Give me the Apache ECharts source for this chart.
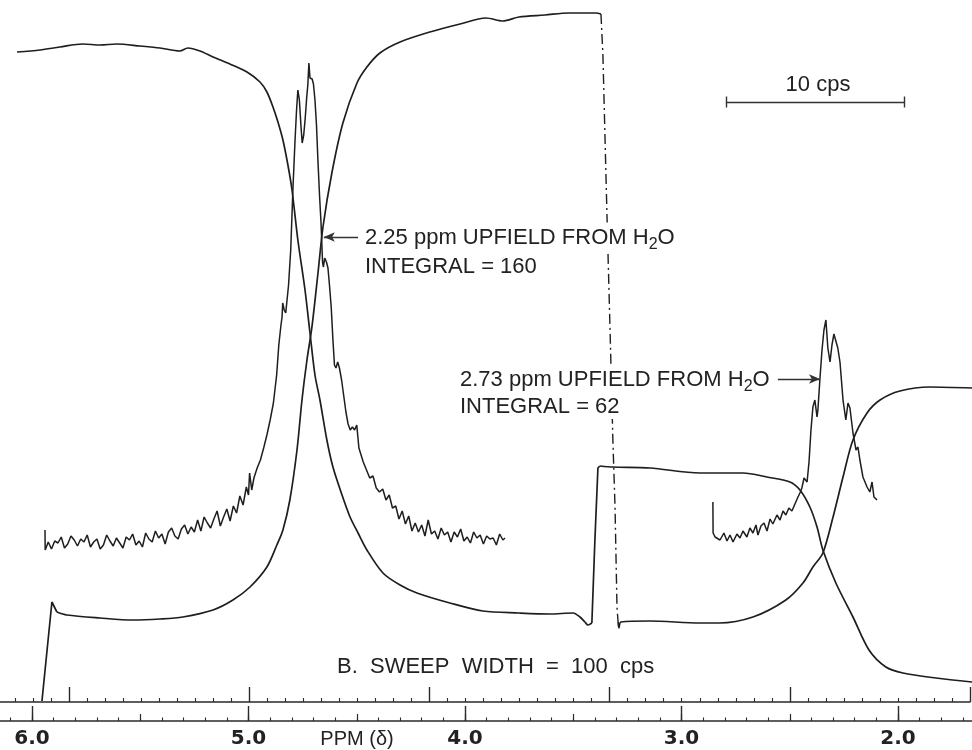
<!DOCTYPE html>
<html>
<head>
<meta charset="utf-8">
<script src="https://cdn.jsdelivr.net/npm/echarts@6/dist/echarts.min.js"></script>
<style>
    html, body { margin: 0; padding: 0; background: #fff; }
    #chart { width: 972px; height: 750px; }
</style>
</head>
<body>
<div id="chart"></div>
<script>
    // x: chemical shift in ppm (delta), y: pen deflection in chart divisions
    const integralA = [
        [6.069, 66.9], [5.963, 67.1], [5.871, 67.4], [5.765, 67.7], [5.686, 67.6], [5.608, 67.7],
        [5.501, 67.5], [5.409, 67.3], [5.317, 67.0], [5.280, 67.3], [5.224, 67.0], [5.164, 66.4],
        [5.086, 65.7], [5.007, 64.9], [4.947, 63.9], [4.915, 62.9], [4.887, 61.4], [4.864, 59.9],
        [4.841, 58.1], [4.818, 55.6], [4.799, 53.1], [4.772, 48.1], [4.739, 43.1], [4.716, 38.8],
        [4.693, 34.6], [4.670, 32.1], [4.638, 28.1], [4.610, 25.4], [4.568, 22.6], [4.531, 20.4],
        [4.494, 18.8], [4.453, 17.1], [4.379, 14.8], [4.300, 13.6], [4.222, 12.8], [4.070, 11.8],
        [3.917, 11.0], [3.751, 10.8], [3.608, 10.7], [3.501, 10.8], [3.469, 10.4], [3.446, 9.9],
        [3.432, 9.6], [3.414, 9.8]
    ]

    // pen reset between the two integrals
    const stepA = [[3.414, 9.8], [3.400, 18.1], [3.386, 25.3], [3.377, 25.5]]

    const integralC = [
        [3.377, 25.5], [3.317, 25.4], [3.146, 25.3], [2.915, 24.8], [2.716, 24.8], [2.605, 24.4],
        [2.499, 23.9], [2.453, 23.1], [2.407, 21.4], [2.374, 19.4], [2.347, 17.1], [2.287, 13.8],
        [2.208, 10.4], [2.134, 7.1], [2.056, 5.4], [1.977, 4.8], [1.825, 4.3], [1.658, 3.9]
    ]

    const startB = [[5.954, 2.0], [5.908, 11.9], [5.885, 10.9]]

    const integralB = [
        [5.885, 10.9], [5.839, 10.6], [5.686, 10.3], [5.534, 10.1],
        [5.409, 10.2], [5.303, 10.4], [5.164, 11.1], [5.072, 12.1], [4.993, 13.4], [4.915, 15.4],
        [4.869, 17.6], [4.841, 19.1], [4.809, 22.1], [4.776, 27.1], [4.753, 32.1], [4.730, 36.1],
        [4.707, 39.4], [4.679, 44.8], [4.656, 49.4], [4.615, 54.8], [4.564, 59.8], [4.499, 63.8],
        [4.453, 65.4], [4.393, 66.8], [4.300, 67.9], [4.162, 68.9], [4.023, 69.7], [3.903, 70.3],
        [3.825, 70.0], [3.751, 70.4], [3.631, 70.6], [3.520, 70.8], [3.395, 70.8], [3.372, 70.7]
    ]

    // fast pen return, drawn dash-dot on the paper
    const integralReturn = [
        [3.372, 70.7], [3.363, 66.6], [3.344, 50.4], [3.330, 39.1], [3.317, 28.1], [3.307, 21.4],
        [3.298, 11.4], [3.293, 9.9]
    ]

    const integralD = [
        [3.293, 9.9], [3.289, 9.3], [3.280, 9.9], [3.146, 10.0], [2.915, 9.8], [2.827, 9.8],
        [2.670, 10.4], [2.518, 12.1], [2.439, 13.8], [2.393, 15.4], [2.347, 16.8], [2.300, 20.4],
        [2.254, 24.4], [2.208, 28.1], [2.143, 30.8], [2.083, 32.1], [1.991, 33.0], [1.853, 33.4],
        [1.658, 33.3]
    ]

    const signal1 = [
        [5.940, 19.1], [5.939, 17.1], [5.925, 17.9], [5.910, 17.2], [5.895, 18.0], [5.880, 17.8],
        [5.865, 18.4], [5.850, 17.3], [5.835, 17.7], [5.820, 18.5], [5.805, 18.1], [5.790, 17.5],
        [5.775, 18.2], [5.760, 17.9], [5.745, 18.6], [5.730, 17.4], [5.715, 17.9], [5.700, 18.2],
        [5.685, 17.2], [5.670, 17.6], [5.655, 18.6], [5.640, 18.0], [5.625, 17.5], [5.610, 18.3],
        [5.595, 17.8], [5.580, 17.3], [5.565, 18.4], [5.550, 18.1], [5.535, 18.7], [5.520, 17.6],
        [5.505, 18.0], [5.490, 17.4], [5.475, 18.8], [5.460, 18.2], [5.445, 17.9], [5.430, 19.0],
        [5.415, 18.3], [5.400, 18.7], [5.385, 17.7], [5.370, 18.9], [5.355, 19.3], [5.340, 18.5],
        [5.325, 18.2], [5.310, 19.2], [5.295, 19.6], [5.280, 18.7], [5.265, 19.4], [5.250, 18.9],
        [5.235, 20.1], [5.220, 19.0], [5.205, 20.4], [5.190, 19.8], [5.175, 19.3], [5.160, 20.2],
        [5.145, 21.0], [5.130, 19.5], [5.115, 20.4], [5.100, 21.2], [5.085, 20.0], [5.070, 21.5],
        [5.055, 20.8], [5.040, 22.5], [5.025, 21.6], [5.010, 23.4], [5.000, 22.6], [4.995, 24.8],
        [4.985, 23.1], [4.975, 24.3], [4.960, 25.3], [4.945, 26.1], [4.930, 27.3], [4.915, 28.6],
        [4.900, 30.1], [4.885, 31.8], [4.870, 34.6], [4.860, 37.6], [4.850, 39.6], [4.845, 40.4],
        [4.842, 41.8], [4.835, 41.1], [4.828, 40.8], [4.815, 43.6], [4.805, 47.1], [4.795, 53.1],
        [4.785, 58.1], [4.778, 61.1], [4.772, 63.1], [4.765, 62.1], [4.758, 59.6], [4.752, 57.8],
        [4.745, 58.6], [4.738, 60.3], [4.731, 62.4], [4.726, 63.6], [4.721, 65.8], [4.716, 64.3],
        [4.712, 64.1], [4.706, 64.2], [4.700, 63.7], [4.693, 62.1], [4.686, 59.6], [4.680, 56.4],
        [4.672, 52.6], [4.665, 49.8], [4.658, 45.9], [4.654, 45.4], [4.648, 46.3], [4.640, 45.9],
        [4.633, 45.3], [4.626, 43.6], [4.618, 41.4], [4.610, 38.1], [4.603, 35.6], [4.596, 35.3],
        [4.588, 35.9], [4.580, 35.3], [4.570, 34.1], [4.560, 32.5], [4.550, 30.9], [4.540, 29.7],
        [4.530, 29.1], [4.520, 29.4], [4.510, 29.1], [4.500, 29.6], [4.490, 27.3], [4.480, 26.6],
        [4.470, 25.9], [4.455, 25.1], [4.440, 24.3], [4.425, 24.5], [4.410, 23.3], [4.395, 22.9],
        [4.380, 23.2], [4.365, 22.1], [4.350, 22.6], [4.335, 21.3], [4.320, 21.5], [4.305, 20.2],
        [4.290, 21.0], [4.275, 19.7], [4.260, 20.5], [4.245, 19.0], [4.230, 19.8], [4.215, 18.9],
        [4.200, 19.6], [4.185, 18.5], [4.170, 20.1], [4.155, 18.7], [4.140, 19.0], [4.125, 18.2],
        [4.110, 19.3], [4.095, 18.6], [4.080, 18.9], [4.065, 17.9], [4.050, 18.9], [4.035, 18.4],
        [4.020, 19.2], [4.005, 18.0], [3.990, 18.4], [3.975, 17.8], [3.960, 18.9], [3.945, 18.3],
        [3.930, 18.6], [3.915, 17.7], [3.900, 18.5], [3.885, 18.2], [3.870, 18.3], [3.855, 17.6],
        [3.840, 18.7], [3.825, 18.1], [3.815, 18.3]
    ]

    const signal2 = [
        [2.855, 21.9], [2.854, 18.8], [2.845, 18.4], [2.822, 18.1], [2.804, 18.8], [2.790, 18.0],
        [2.776, 18.6], [2.762, 17.9], [2.744, 18.7], [2.730, 18.3], [2.716, 19.0], [2.698, 18.4],
        [2.684, 19.3], [2.670, 18.8], [2.656, 19.6], [2.647, 18.6], [2.633, 19.5], [2.619, 19.8],
        [2.605, 19.0], [2.591, 20.2], [2.578, 19.7], [2.559, 20.6], [2.545, 20.1], [2.531, 21.0],
        [2.518, 20.6], [2.504, 21.3], [2.490, 21.0], [2.476, 21.7], [2.462, 22.4], [2.453, 22.8],
        [2.444, 23.3], [2.434, 24.3], [2.430, 24.4], [2.420, 23.9], [2.411, 25.9], [2.402, 29.1],
        [2.393, 31.4], [2.384, 32.1], [2.374, 30.4], [2.370, 31.1], [2.360, 34.4], [2.351, 37.1],
        [2.342, 39.1], [2.333, 40.1], [2.324, 37.3], [2.314, 35.9], [2.305, 37.6], [2.296, 38.7],
        [2.287, 38.6], [2.278, 37.3], [2.268, 35.9], [2.254, 32.1], [2.241, 30.1], [2.231, 31.8],
        [2.222, 31.3], [2.208, 28.8], [2.194, 27.1], [2.185, 27.4], [2.176, 26.1], [2.162, 24.4],
        [2.143, 23.4], [2.130, 22.9], [2.120, 23.9], [2.111, 22.4], [2.097, 22.1]
    ]

    // annotation anchors [ppm, divisions]
    const arrow1 = [[4.494, 48.4], [4.652, 48.4]]
    const arrow2 = [[2.555, 34.2], [2.360, 34.2]]
    const scaleBar = [[2.795, 61.9], [1.972, 61.9]]
    const capHalf = 0.55

    const ink = '#1e1e1e'
    const chart = echarts.init(document.getElementById('chart'))

    function trace (data, extra) {
        return Object.assign({
            type: 'line',
            data: data,
            showSymbol: false,
            symbol: 'none',
            silent: true,
            animation: false,
            z: 3,
            lineStyle: { color: ink, width: 1.7 }
        }, extra || {})
    }

    function note (x, y, text, align) {
        return {
            type: 'text',
            x: x,
            y: y,
            z: 10,
            silent: true,
            style: {
                text: text,
                align: align || 'left',
                verticalAlign: 'middle',
                fontFamily: 'Liberation Sans',
                fontSize: 22,
                fill: '#222',
                backgroundColor: '#fff',
                padding: [1, 3],
                rich: {
                    s: { fontFamily: 'Liberation Sans', fontSize: 16, fill: '#222', padding: [13, 0, 0, 0] }
                }
            }
        }
    }

    const capLine = (p) => [{ coord: [p[0], p[1] - capHalf] }, { coord: [p[0], p[1] + capHalf] }]

    chart.setOption({
        backgroundColor: '#fff',
        animation: false,
        grid: [
            { left: -184.5, right: -142.5, top: 0, bottom: 29, outerBoundsMode: 'none' },
            { left: -111, right: 2, bottom: 48, height: 10, outerBoundsMode: 'none' }
        ],
        xAxis: [{
            type: 'value',
            gridIndex: 0,
            inverse: true,
            position: 'bottom',
            min: 1,
            max: 7,
            interval: 1,
            splitLine: { show: false },
            axisLine: { show: true, lineStyle: { color: '#2a2a2a', width: 1.6 } },
            axisTick: { show: true, inside: true, length: 15, lineStyle: { color: '#2a2a2a', width: 1.4 } },
            axisLabel: {
                margin: 8,
                color: '#222',
                fontFamily: 'DejaVu Sans',
                fontWeight: 'bold',
                fontSize: 20,
                formatter: (v) => v.toFixed(1)
            }
        }, {
            type: 'value',
            gridIndex: 0,
            inverse: true,
            position: 'bottom',
            min: 1,
            max: 7,
            interval: 0.5,
            splitLine: { show: false },
            axisLine: { show: false },
            axisTick: { show: true, inside: true, length: 7, lineStyle: { color: '#2a2a2a', width: 1.2 } },
            axisLabel: { show: false }
        }, {
            type: 'value',
            gridIndex: 0,
            inverse: true,
            position: 'bottom',
            min: 1,
            max: 7,
            interval: 0.1,
            splitLine: { show: false },
            axisLine: { show: false },
            axisTick: { show: true, inside: true, length: 3.5, lineStyle: { color: '#2a2a2a', width: 1.1 } },
            axisLabel: { show: false }
        }, {
            type: 'value',
            gridIndex: 1,
            position: 'bottom',
            min: -10,
            max: 50,
            interval: 10,
            splitLine: { show: false },
            axisLine: { show: true, lineStyle: { color: '#2a2a2a', width: 1.6 } },
            axisTick: { show: true, inside: true, length: 15, lineStyle: { color: '#2a2a2a', width: 1.4 } },
            minorTick: { show: true, splitNumber: 10, length: 4, lineStyle: { color: '#2a2a2a', width: 1.1 } },
            axisLabel: { show: false }
        }],
        yAxis: [
            { type: 'value', gridIndex: 0, min: 0, max: 72.1, show: false },
            { type: 'value', gridIndex: 1, min: 0, max: 1, show: false }
        ],
        series: [
            trace(integralA, { smooth: 0.3 }),
            trace(stepA),
            trace(integralC, { smooth: 0.3 }),
            trace(startB),
            trace(integralB, { smooth: 0.3 }),
            trace(integralReturn, { lineStyle: { color: ink, width: 1.4, type: [10, 4, 2, 4] } }),
            trace(integralD, { smooth: 0.3 }),
            trace(signal1, { lineStyle: { color: ink, width: 1.5 } }),
            trace(signal2, {
                lineStyle: { color: ink, width: 1.5 },
                markLine: {
                    silent: true,
                    animation: false,
                    symbol: ['none', 'none'],
                    label: { show: false },
                    lineStyle: { color: '#333', width: 1.4, type: 'solid' },
                    data: [
                        [{ coord: arrow1[0] }, { coord: arrow1[1], symbol: 'arrow', symbolSize: [7, 11] }],
                        [{ coord: arrow2[0] }, { coord: arrow2[1], symbol: 'arrow', symbolSize: [7, 11] }],
                        [{ coord: scaleBar[0] }, { coord: scaleBar[1] }],
                        capLine(scaleBar[0]),
                        capLine(scaleBar[1])
                    ]
                }
            })
        ],
        graphic: [
            note(362, 238, '2.25 ppm UPFIELD FROM H{s|2}O'),
            note(362, 267, 'INTEGRAL = 160'),
            note(457, 380, '2.73 ppm UPFIELD FROM H{s|2}O'),
            note(457, 407, 'INTEGRAL = 62'),
            note(334, 667, 'B.  SWEEP  WIDTH  =  100  cps'),
            note(818, 85, '10 cps', 'center'),
            {
                type: 'text',
                x: 357,
                y: 739,
                z: 10,
                silent: true,
                style: { text: 'PPM (δ)', align: 'center', verticalAlign: 'middle', fontFamily: 'Liberation Sans', fontSize: 20, fill: '#222' }
            }
        ]
    })
</script>
</body>
</html>
